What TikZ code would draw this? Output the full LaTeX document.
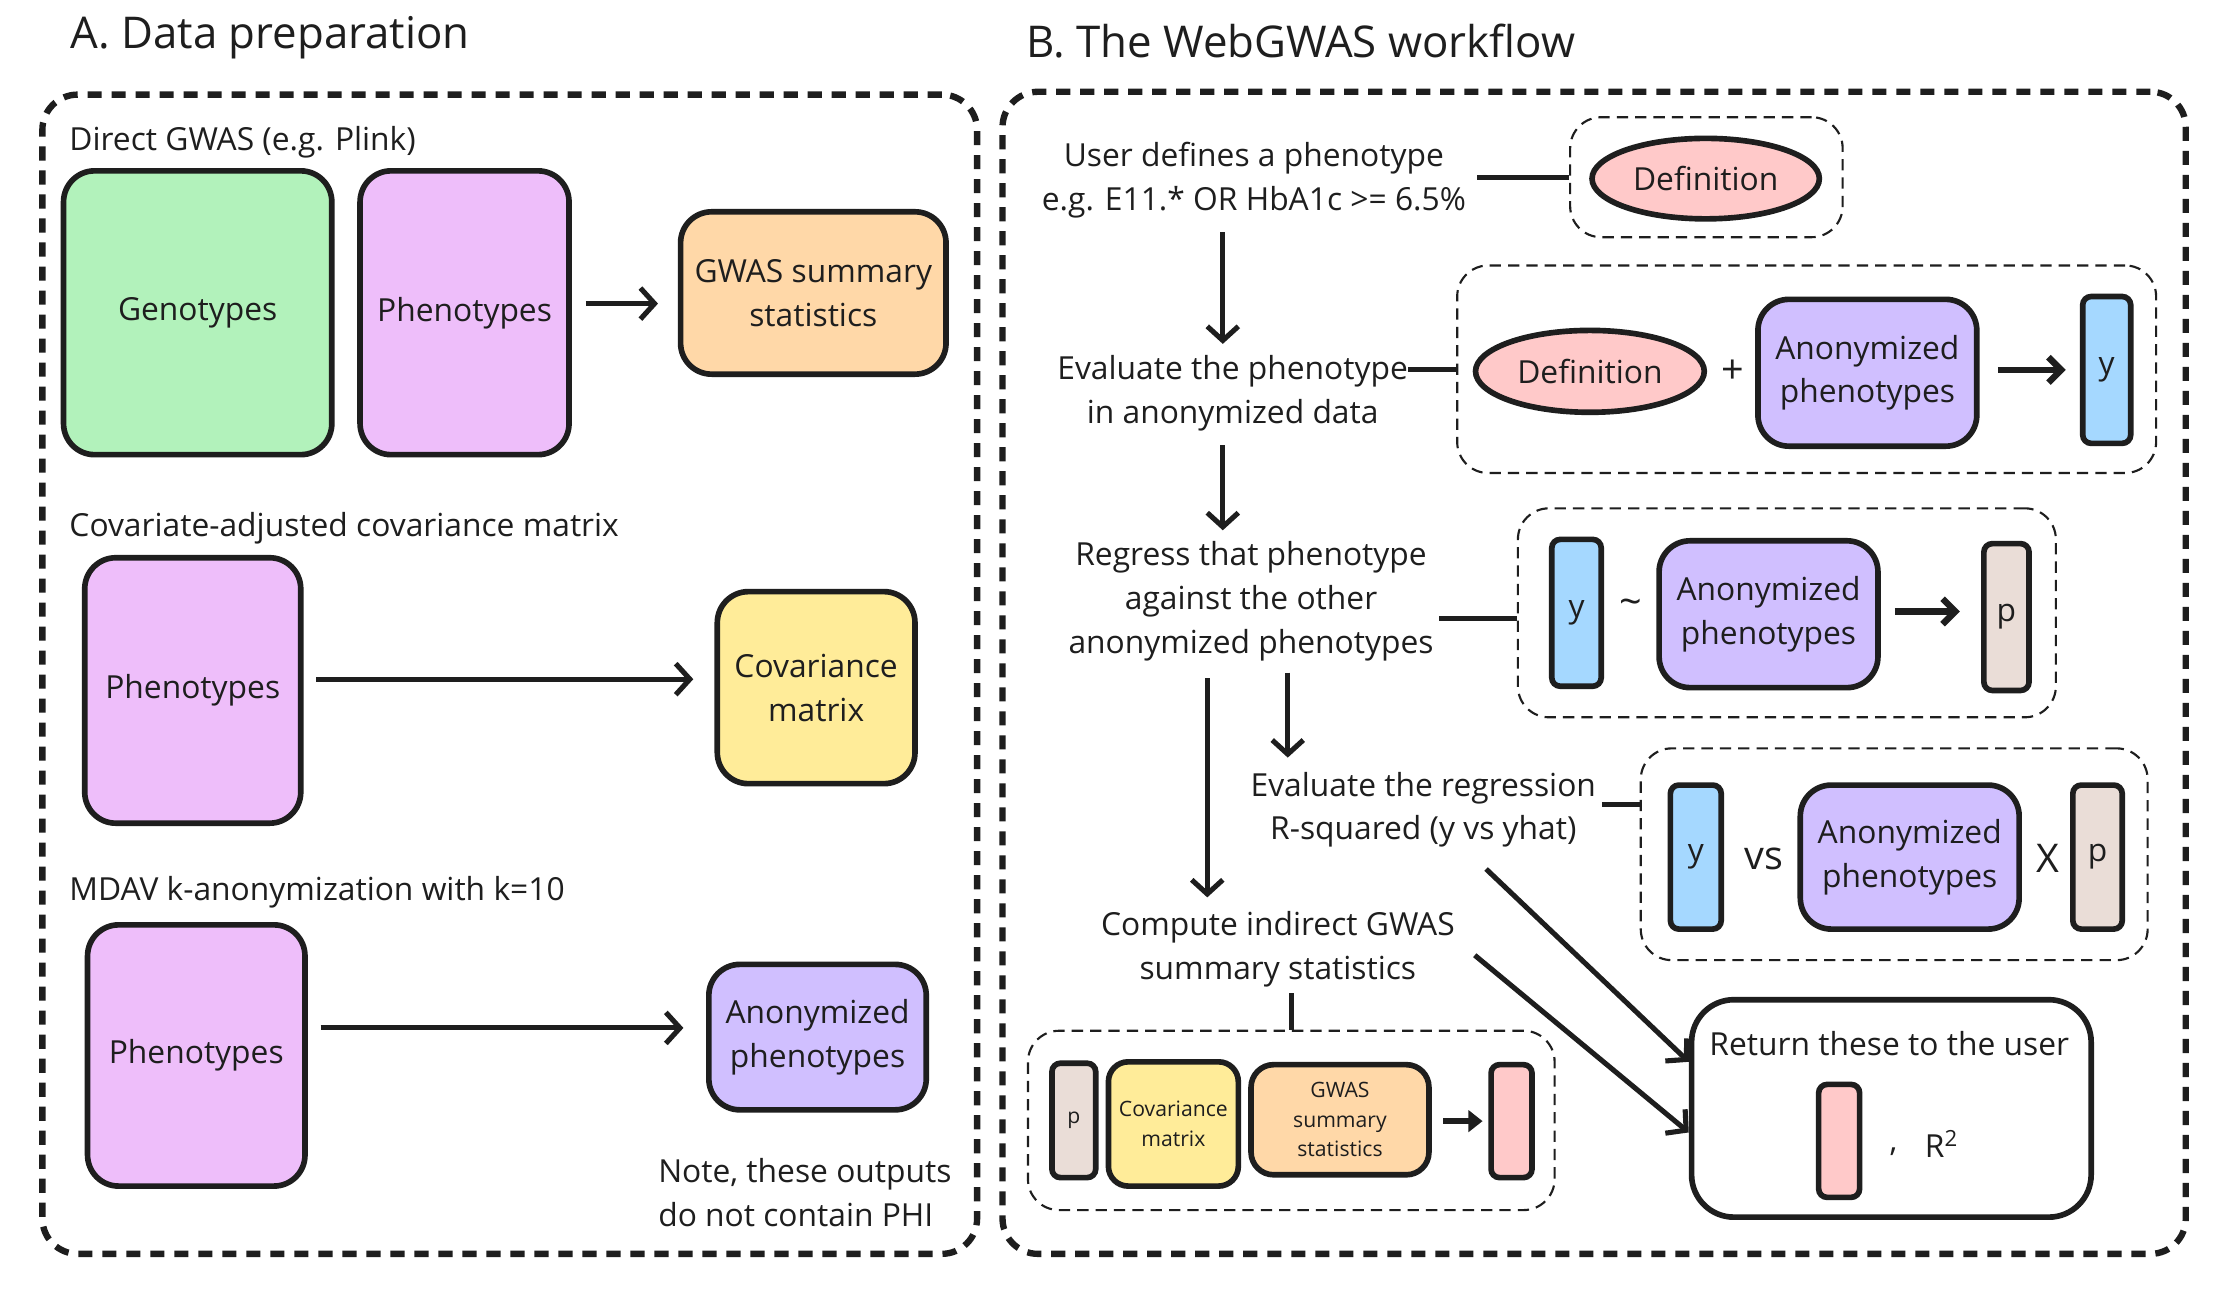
\documentclass[tikz,border=0pt]{standalone}
\usepackage{fontspec}
\setmainfont{Open Sans}
\usetikzlibrary{arrows.meta,shapes.geometric}
\definecolor{ink}{HTML}{1E1E1E}
\definecolor{cgreen}{HTML}{B2F2BB}
\definecolor{cpink}{HTML}{EEBEFA}
\definecolor{corange}{HTML}{FFD8A8}
\definecolor{cyellow}{HTML}{FFEC99}
\definecolor{cpurple}{HTML}{D0BFFF}
\definecolor{cred}{HTML}{FFC9C9}
\definecolor{cblue}{HTML}{A5D8FF}
\definecolor{cbrown}{HTML}{EADDD7}
\newcommand\fmain{\fontsize{22.5}{31}\selectfont}
\newcommand\fsmall{\fontsize{15}{21}\selectfont}
\newcommand\ftitle{\fontsize{31}{36}\selectfont}
\newcommand\fsym{\fontsize{28}{32}\selectfont}
\tikzset{
  box/.style={draw=ink, line width=4pt, rounded corners=22pt, align=center, inner sep=0pt, font=\fmain, text=ink},
  bar/.style={draw=ink, line width=4pt, rounded corners=6pt, inner sep=0pt, font=\fmain, text=ink},
  ell/.style={ellipse, draw=ink, line width=4pt, fill=cred, inner sep=0pt, font=\fmain, text=ink},
  outer/.style={draw=ink, line width=4.5pt, dash pattern=on 10pt off 7pt, rounded corners=25pt, inner sep=0pt},
  group/.style={draw=ink, line width=1.5pt, dash pattern=on 8pt off 5pt, rounded corners=22pt, inner sep=0pt},
  txt/.style={align=center, font=\fmain, text=ink, inner sep=4pt},
  lab/.style={anchor=west, font=\fmain, text=ink, inner sep=4pt},
  conn/.style={draw=ink, line width=3.6pt},
  arr/.style={draw=ink, line width=3.6pt, -{Straight Barb[length=10pt,width=22pt]}},
  sarr/.style={draw=ink, line width=4.6pt, -{Straight Barb[length=9pt,width=18pt]}},
  tarr/.style={draw=ink, line width=4pt, -{Triangle[length=10pt,width=15pt]}},
  sym/.style={font=\fsym, text=ink, inner sep=0pt}
}
\begin{document}
\begin{tikzpicture}[x=1pt,y=-1pt]
\useasboundingbox (0,0) rectangle (1568,915);
\fill[white] (0,0) rectangle (1568,915);

% ---------- Panel A ----------
\node[anchor=west, font=\ftitle, text=ink, inner sep=0pt] (titA) at (50,27) {A. Data preparation};
\node[outer, minimum width=662, minimum height=821] (outA) at (361,477.5) {};

\node[lab] (labA1) at (45,101) {Direct GWAS (e.g. Plink)};
\node[box, fill=cgreen, minimum width=190, minimum height=201] (geno) at (140,221.5) {Genotypes};
\node[box, fill=cpink, minimum width=148, minimum height=201] (phen1) at (329,221.5) {Phenotypes};
\node[box, fill=corange, minimum width=188, minimum height=115] (gwas1) at (576,207.5) {GWAS summary\\statistics};
\draw[arr] ([xshift=10]phen1.east |- 0,215) -- ([xshift=-14]gwas1.west |- 0,215);

\node[lab] (labA2) at (45,374) {Covariate-adjusted covariance matrix};
\node[box, fill=cpink, minimum width=153, minimum height=188] (phen2) at (136.5,489) {Phenotypes};
\node[box, fill=cyellow, minimum width=140, minimum height=136] (cov1) at (578,487) {Covariance\\matrix};
\draw[arr] ([xshift=9]phen2.east |- 0,481) -- ([xshift=-15]cov1.west |- 0,481);

\node[lab] (labA3) at (45,632) {MDAV k-anonymization with k=10};
\node[box, fill=cpink, minimum width=154, minimum height=185] (phen3) at (139,747.5) {Phenotypes};
\node[box, fill=cpurple, minimum width=154, minimum height=103] (anon1) at (579,734.5) {Anonymized\\phenotypes};
\draw[arr] ([xshift=9]phen3.east |- 0,728) -- ([xshift=-16]anon1.west |- 0,728);

\node[anchor=west, align=left, font=\fmain, text=ink, inner sep=4pt] (note) at (462,844.5) {Note, these outputs\\do not contain PHI};

% ---------- Panel B ----------
\node[anchor=west, font=\ftitle, text=ink, inner sep=0pt] (titB) at (727,29) {B. The WebGWAS workflow};
\node[outer, minimum width=838, minimum height=823] (outB) at (1129,476.5) {};

% step 1
\node[txt] (t1) at (888,127.5) {User defines a phenotype\\e.g. E11.* OR HbA1c >= 6.5\%};
\node[group, minimum width=193, minimum height=85] (g1) at (1208.5,125.5) {};
\node[ell, minimum width=161, minimum height=57] (def1) at (1208,126.5) {Definition};
\draw[conn] ([xshift=4]t1.east |- g1.west) -- (g1.west);

% step 2
\node[txt] (t2) at (873,278.5) {Evaluate the phenotype\\in anonymized data};
\node[group, minimum width=495, minimum height=147] (g2) at (1279.5,261.5) {};
\node[ell, minimum width=162, minimum height=58] (def2) at (1126,263) {Definition};
\node[sym] (plus) at (1227,263) {+};
\node[box, fill=cpurple, minimum width=155, minimum height=104] (anon2) at (1322.5,264) {Anonymized\\phenotypes};
\node[bar, fill=cblue, minimum width=34, minimum height=104] (y1) at (1492,262) {y};
\draw[sarr] ([xshift=13]anon2.east |- y1.west) -- ([xshift=-10]y1.west);
\draw[conn] ([xshift=-4]t2.north east |- g2.west) -- (g2.west);
\draw[arr] ([xshift=-22,yshift=-6]t1.south) -- ([xshift=-7,yshift=4]t2.north);

% step 3
\node[txt] (t3) at (886,426) {Regress that phenotype\\against the other\\anonymized phenotypes};
\node[group, minimum width=381, minimum height=148] (g3) at (1265.5,434) {};
\node[bar, fill=cblue, minimum width=35, minimum height=104] (y2) at (1116.5,434) {y};
\node[sym] (tilde) at (1155,430) {\textasciitilde};
\node[box, fill=cpurple, minimum width=155, minimum height=104] (anon3) at (1252.5,435) {Anonymized\\phenotypes};
\node[bar, fill=cbrown, minimum width=32, minimum height=104] (p1) at (1421,437) {p};
\draw[sarr] ([xshift=10]anon3.east |- 0,433) -- ([xshift=-15]p1.west |- 0,433);
\draw[conn] ([yshift=-12]t3.east) -- ([yshift=-12]t3.east -| g3.west);
\draw[arr] ([xshift=-7,yshift=-6]t2.south) -- ([xshift=-20,yshift=4]t3.north);

% step 4
\node[txt] (t4) at (1008,573.5) {Evaluate the regression\\R-squared (y vs yhat)};
\node[group, minimum width=359, minimum height=150] (g4) at (1341.5,605) {};
\node[bar, fill=cblue, minimum width=36, minimum height=102] (y3) at (1201,607) {y};
\node[sym] (vs) at (1249,608) {vs};
\node[box, fill=cpurple, minimum width=155, minimum height=102] (anon4) at (1352.5,607) {Anonymized\\phenotypes};
\node[sym] (times) at (1450,608) {X};
\node[bar, fill=cbrown, minimum width=35, minimum height=102] (p2) at (1485.5,607) {p};
\draw[conn] ([yshift=4]t4.east) -- ([yshift=4]t4.east -| g4.west);
\draw[arr] ([xshift=26,yshift=-4]t3.south) -- ([xshift=-96,yshift=6]t4.north);

% step 5
\node[txt] (t5) at (905,672.5) {Compute indirect GWAS\\summary statistics};
\node[group, minimum width=373, minimum height=127] (g5) at (914.5,793.5) {};
\node[bar, fill=cbrown, minimum width=31, minimum height=81, font=\fsmall] (p3) at (760.5,793.5) {p};
\node[box, fill=cyellow, rounded corners=14pt, minimum width=92, minimum height=88, font=\fsmall] (cov2) at (831,796) {Covariance\\matrix};
\node[box, fill=corange, rounded corners=16pt, minimum width=126, minimum height=78, font=\fsmall] (gwas2) at (949,793) {GWAS\\summary\\statistics};
\node[bar, fill=cred, minimum width=29, minimum height=80] (pk1) at (1070.5,794) {};
\draw[tarr] ([xshift=8]gwas2.east |- 0,794) -- ([xshift=-4]pk1.west);
\draw[conn] (g5.north |- t5.south) -- (g5.north);
\draw[arr] ([xshift=-31,yshift=-8]t3.south) -- ([xshift=-50,yshift=6]t5.north);

% return
\node[box, fill=white, rounded corners=30pt, minimum width=283, minimum height=154] (ret) at (1339.5,785) {};
\node[txt] (rtxt) at (1338,739) {Return these to the user};
\node[bar, fill=cred, minimum width=29, minimum height=80] (pk2) at (1302.5,808) {};
\node[sym, font=\fmain] (comma) at (1341,816) {,};
\node[sym, font=\fmain] (r2) at (1375,810) {R\textsuperscript{2}};
\draw[arr] ([xshift=-82,yshift=-11]t4.south east) -- ([yshift=33]ret.west);
\draw[arr] ([xshift=10,yshift=-4]t5.east) -- ([yshift=-17]ret.west);
\end{tikzpicture}
\end{document}
